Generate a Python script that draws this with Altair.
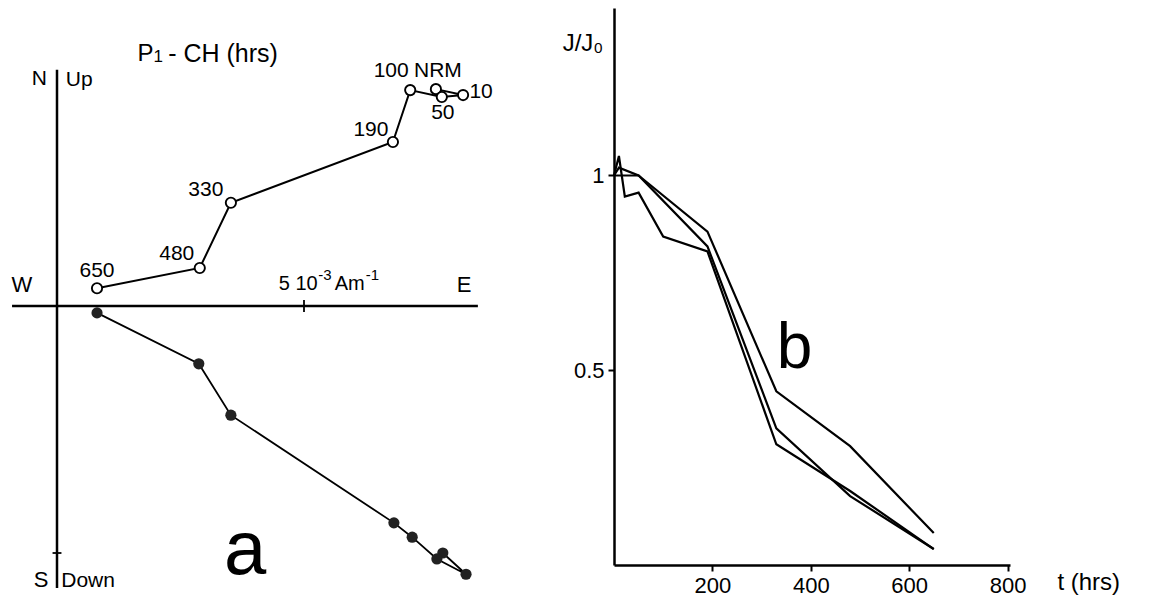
import altair as alt
import pandas as pd

# ---------------- Panel a data (10^-3 A/m) ----------------
steps = ["NRM", "10", "50", "100", "190", "330", "480", "650"]
east_h = [7.67, 8.22, 7.79, 7.15, 6.80, 3.52, 2.89, 0.81]
north_h = [4.39, 4.27, 4.23, 4.37, 3.32, 2.09, 0.77, 0.36]
east_v = [7.81, 8.28, 7.69, 7.19, 6.82, 3.52, 2.87, 0.81]
up_v = [-5.00, -5.43, -5.12, -4.68, -4.39, -2.21, -1.17, -0.14]

# label offsets from their open circle (pixels)
label_dx = [2, 18, 1, -19, -22, -25, -23, 0]
label_dy = [-18, -3, 16, -19, -12, -13, -14, -17]

# ---------------- Panel b data ----------------
t1 = [0, 10, 22, 50, 100, 190, 330, 480, 650]
j1 = [1.0, 1.05, 0.946, 0.956, 0.843, 0.805, 0.31, 0.19, 0.041]
t2 = [0, 10, 50, 190, 330, 480, 650]
j2 = [1.0, 1.02, 1.0, 0.818, 0.351, 0.177, 0.041]
t3 = [0, 10, 50, 190, 330, 480, 650]
j3 = [1.0, 1.0, 1.0, 0.856, 0.446, 0.305, 0.082]
x_ticks = [200, 400, 600, 800]
y_ticks = [0.5, 1]

FONT = "Liberation Sans"

# ---------------- Panel a ----------------
AW, AH = 482, 580
S = 49.4           # px per unit
X0, Y0 = 49, 298   # origin position inside panel (px)
xdom = [-X0 / S, (AW - X0) / S]
ydom = [-(AH - Y0) / S, Y0 / S]
xs = alt.Scale(domain=xdom, nice=False, zero=False)
ys = alt.Scale(domain=ydom, nice=False, zero=False)

hdf = pd.DataFrame({"step": steps, "x": east_h, "y": north_h, "o": range(len(steps))})
vdf = pd.DataFrame({"step": steps, "x": east_v, "y": up_v, "o": range(len(steps))})
ldf = pd.DataFrame({
    "step": steps,
    "x": [e + dx / S for e, dx in zip(east_h, label_dx)],
    "y": [n - dy / S for n, dy in zip(north_h, label_dy)],
})

X = lambda f: alt.X(f, type="quantitative", scale=xs, axis=None)
Y = lambda f: alt.Y(f, type="quantitative", scale=ys, axis=None)

axes_df = pd.DataFrame({"x": [-0.91, 0.0], "x2": [8.52, 0.0], "y": [0.0, 4.78], "y2": [0.0, ydom[0]]})
axes_a = alt.Chart(axes_df).mark_rule(color="black", strokeWidth=2.5).encode(
    x=X("x"), x2="x2", y=Y("y"), y2="y2")
ticks_df = pd.DataFrame({"x": [5.0, -0.09], "x2": [5.0, 0.09], "y": [-0.12, -5.0], "y2": [0.12, -5.0]})
ticks_a = alt.Chart(ticks_df).mark_rule(color="black", strokeWidth=1.8).encode(
    x=X("x"), x2="x2", y=Y("y"), y2="y2")

hline = alt.Chart(hdf).mark_line(color="black", strokeWidth=2).encode(x=X("x"), y=Y("y"), order="o")
vline = alt.Chart(vdf).mark_line(color="black", strokeWidth=1.8).encode(x=X("x"), y=Y("y"), order="o")
hpts = alt.Chart(hdf).mark_point(shape="circle", filled=True, fill="white", stroke="black",
                                 strokeWidth=1.9, size=105, opacity=1).encode(x=X("x"), y=Y("y"))
vpts = alt.Chart(vdf).mark_circle(color="#222222", size=125, opacity=1).encode(x=X("x"), y=Y("y"))
labels = alt.Chart(ldf).mark_text(font=FONT, fontSize=21, color="black", baseline="middle",
                                  align="center").encode(x=X("x"), y=Y("y"), text="step")

ann_text = ["P", "1", "- CH (hrs)", "N", "Up", "W", "E", "S", "Down"]
ann_x = [1.79, 2.05, 2.25, -0.36, 0.45, -0.71, 8.24, -0.32, 0.63]
ann_y = [5.11, 5.04, 5.11, 4.60, 4.57, 0.43, 0.43, -5.55, -5.57]
ann_size = [24, 17, 25, 21, 21, 22, 22, 22, 21]
ann_align = ["center", "center", "left", "center", "center", "center", "center", "center", "center"]
ann_df = pd.DataFrame({"t": ann_text, "x": ann_x, "y": ann_y, "s": ann_size, "al": ann_align})
ann_c = alt.Chart(ann_df[ann_df.al == "center"]).mark_text(
    font=FONT, color="black", baseline="middle", align="center").encode(
    x=X("x"), y=Y("y"), text="t", size=alt.Size("s:Q", scale=None, legend=None))
ann_l = alt.Chart(ann_df[ann_df.al == "left"]).mark_text(
    font=FONT, color="black", baseline="middle", align="left").encode(
    x=X("x"), y=Y("y"), text="t", size=alt.Size("s:Q", scale=None, legend=None))

# unit label "5 10^-3 Am^-1" built from pieces
unit_t = ["5 10", "-3", "Am", "-1"]
unit_x = [4.49, 5.29, 5.62, 6.25]
unit_y = [0.32, 0.52, 0.32, 0.52]
unit_s = [20, 15, 20, 15]
unit_df = pd.DataFrame({"t": unit_t, "x": unit_x, "y": unit_y, "s": unit_s})
unit = alt.Chart(unit_df).mark_text(font=FONT, color="black", baseline="alphabetic",
                                    align="left").encode(
    x=X("x"), y=Y("y"), text="t", size=alt.Size("s:Q", scale=None, legend=None))
a_df = pd.DataFrame({"t": ["a"], "x": [3.81], "y": [-4.95]})
a_lab = alt.Chart(a_df).mark_text(font=FONT, fontSize=76, color="black", baseline="middle",
                                  align="center").encode(x=X("x"), y=Y("y"), text="t")

panel_a = alt.layer(axes_a, ticks_a, hline, vline, hpts, vpts, labels, ann_c, ann_l, unit, a_lab).properties(
    width=AW, height=AH)

# ---------------- Panel b ----------------
BW, BH = 396, 557
bdf = pd.concat([
    pd.DataFrame({"t": t1, "j": j1, "s": "1"}),
    pd.DataFrame({"t": t2, "j": j2, "s": "2"}),
    pd.DataFrame({"t": t3, "j": j3, "s": "3"}),
])
bx = alt.Scale(domain=[0, 805], nice=False, zero=False)
by = alt.Scale(domain=[0, 1.43], nice=False, zero=False)
axis_common = dict(domainColor="black", domainWidth=2.5, tickColor="black", tickWidth=2, tickSize=6,
                   labelFont=FONT, labelFontSize=22, labelColor="black", grid=False, title=None)
blines = alt.Chart(bdf).mark_line(color="black", strokeWidth=2.2).encode(
    x=alt.X("t:Q", scale=bx, axis=alt.Axis(values=x_ticks, labelPadding=4, **axis_common)),
    y=alt.Y("j:Q", scale=by, axis=alt.Axis(values=y_ticks, format="~g", labelPadding=4, **axis_common)),
    detail="s:N", order="t:Q")
btxt_df = pd.DataFrame({"t": ["J/J\u2080", "t  (hrs)", "b"], "x": [-63, 965, 367], "y": [1.338, -0.046, 0.555],
                        "s": [24, 24, 64]})
btxt = alt.Chart(btxt_df).mark_text(font=FONT, color="black", baseline="middle", align="center").encode(
    x=alt.X("x:Q", scale=bx), y=alt.Y("y:Q", scale=by), text="t",
    size=alt.Size("s:Q", scale=None, legend=None))
panel_b = alt.layer(blines, btxt).properties(width=BW, height=BH)

chart = alt.hconcat(panel_a, panel_b, spacing=124, bounds="flush").properties(
    padding=0, background="white").configure_view(stroke=None)

chart.save("out.html", embed_options={"renderer": "svg", "actions": False})
